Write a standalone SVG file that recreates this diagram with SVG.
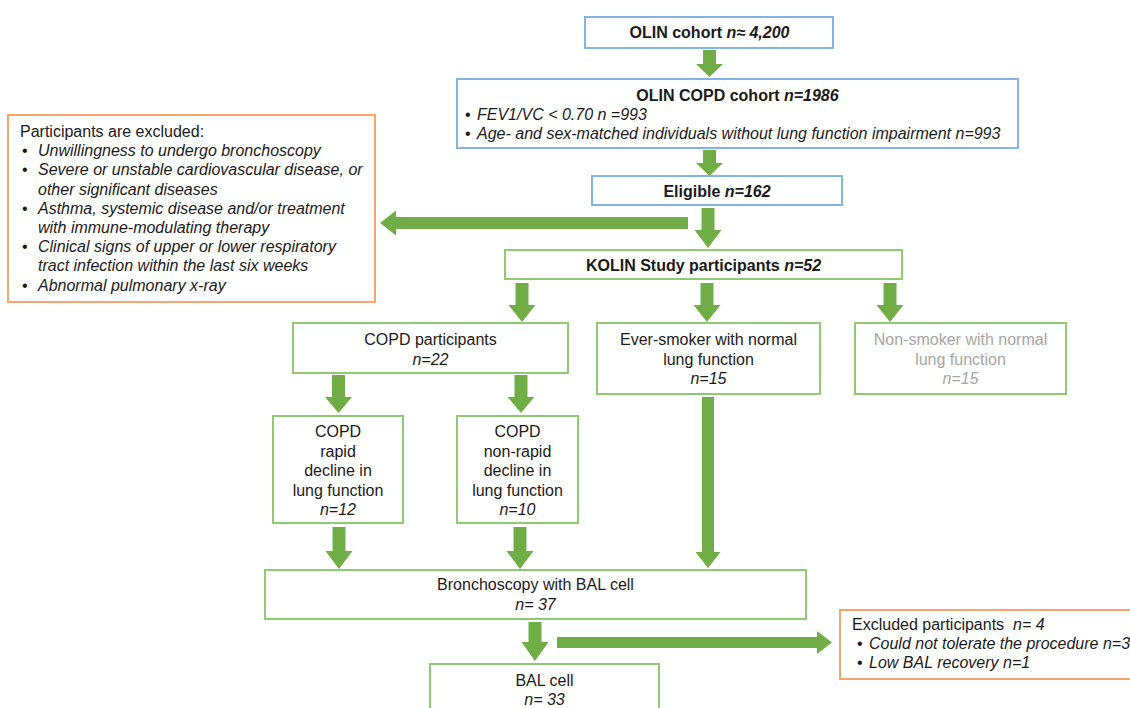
<svg xmlns="http://www.w3.org/2000/svg" width="1130" height="708" viewBox="0 0 1130 708">
  <style>
    text { font-family: "Liberation Sans", Arial, sans-serif; font-size: 16px; fill: #1a1a1a; }
    .b { font-weight: bold; }
    .i { font-style: italic; }
    .c { text-anchor: middle; }
    .grey { fill: #a6a6a6; }
    .blue { fill: #ffffff; stroke: #84b5e2; stroke-width: 2; }
    .green { fill: #ffffff; stroke: #90c873; stroke-width: 2; }
    .orange { fill: #ffffff; stroke: #f4a46c; stroke-width: 2; }
    .arrow { fill: #70ad47; }
  </style>

  <rect width="1130" height="708" fill="#ffffff"/>

  <!-- connectors -->
  <g id="connectors">
    <polygon class="arrow" points="703,50 716,50 716,64 723,64 709.5,77 696,64 703,64"/>
    <polygon class="arrow" points="703,150 716,150 716,163 723,163 709.5,176 696,163 703,163"/>
    <polygon class="arrow" points="701.5,208 714.5,208 714.5,230 721.5,230 708,248 694.5,230 701.5,230"/>
    <polygon class="arrow" points="688,217 396,217 396,210.5 380,223 396,235.5 396,229 688,229"/>
    <polygon class="arrow" points="515.5,283 528.5,283 528.5,305 535.5,305 522,322 508.5,305 515.5,305"/>
    <polygon class="arrow" points="700.5,283 713.5,283 713.5,305 720.5,305 707,322 693.5,305 700.5,305"/>
    <polygon class="arrow" points="883.5,283 896.5,283 896.5,305 903.5,305 890,322 876.5,305 883.5,305"/>
    <polygon class="arrow" points="332,375 345,375 345,397 352,397 338.5,413 325,397 332,397"/>
    <polygon class="arrow" points="514.5,375 527.5,375 527.5,397 534.5,397 521,413 507.5,397 514.5,397"/>
    <polygon class="arrow" points="332.5,527 345.5,527 345.5,551 352.5,551 339,569 325.5,551 332.5,551"/>
    <polygon class="arrow" points="513.5,527 526.5,527 526.5,551 533.5,551 520,569 506.5,551 513.5,551"/>
    <polygon class="arrow" points="702,397 714,397 714,552 720.5,552 708,568 695.5,552 702,552"/>
    <polygon class="arrow" points="528.5,622 541.5,622 541.5,642 548.5,642 535,661 521.5,642 528.5,642"/>
    <polygon class="arrow" points="557,637 817,637 817,631 832,642.5 817,654 817,648 557,648"/>
  </g>

  <g id="olin-cohort">
    <rect class="blue" x="585" y="17" width="248" height="31"/>
    <text class="c b" x="709.5" y="38">OLIN cohort <tspan class="i">n≈ 4,200</tspan></text>
  </g>

  <g id="olin-copd-cohort">
    <rect class="blue" x="457" y="79" width="561" height="69"/>
    <text class="c b" x="737.5" y="101">OLIN COPD cohort <tspan class="i">n=1986</tspan></text>
    <text x="465" y="120">•</text>
    <text class="i" x="477" y="120">FEV1/VC &lt; 0.70 n =993</text>
    <text x="465" y="139">•</text>
    <text class="i" x="477" y="139">Age- and sex-matched individuals without lung function impairment n=993</text>
  </g>

  <g id="eligible">
    <rect class="blue" x="592" y="176" width="250" height="29"/>
    <text class="c b" x="717" y="197">Eligible <tspan class="i">n=162</tspan></text>
  </g>

  <g id="exclusion-criteria">
    <rect class="orange" x="8" y="115" width="367" height="187"/>
    <text x="20" y="137">Participants are excluded:</text>
    <text x="22" y="156.2">•</text>
    <text class="i" x="38" y="156.2">Unwillingness to undergo bronchoscopy</text>
    <text x="22" y="175.4">•</text>
    <text class="i" x="38" y="175.4">Severe or unstable cardiovascular disease, or</text>
    <text class="i" x="38" y="194.6">other significant diseases</text>
    <text x="22" y="213.8">•</text>
    <text class="i" x="38" y="213.8">Asthma, systemic disease and/or treatment</text>
    <text class="i" x="38" y="233">with immune-modulating therapy</text>
    <text x="22" y="252.2">•</text>
    <text class="i" x="38" y="252.2">Clinical signs of upper or lower respiratory</text>
    <text class="i" x="38" y="271.4">tract infection within the last six weeks</text>
    <text x="22" y="290.6">•</text>
    <text class="i" x="38" y="290.6">Abnormal pulmonary x-ray</text>
  </g>

  <g id="kolin-participants">
    <rect class="green" x="505" y="250" width="397" height="29"/>
    <text class="c b" x="703.5" y="271">KOLIN Study participants <tspan class="i">n=52</tspan></text>
  </g>

  <g id="copd-participants">
    <rect class="green" x="293" y="323" width="275" height="50"/>
    <text class="c" x="430.5" y="345">COPD participants</text>
    <text class="c i" x="430.5" y="365">n=22</text>
  </g>

  <g id="ever-smoker">
    <rect class="green" x="597" y="323" width="223" height="71"/>
    <text class="c" x="708.5" y="345">Ever-smoker with normal</text>
    <text class="c" x="708.5" y="364.5">lung function</text>
    <text class="c i" x="708.5" y="384">n=15</text>
  </g>

  <g id="non-smoker">
    <rect class="green" x="855" y="323" width="211" height="71"/>
    <text class="c grey" x="960.5" y="345">Non-smoker with normal</text>
    <text class="c grey" x="960.5" y="364.5">lung function</text>
    <text class="c i grey" x="960.5" y="384">n=15</text>
  </g>

  <g id="copd-rapid">
    <rect class="green" x="273" y="416" width="130" height="107"/>
    <text class="c" x="338" y="437">COPD</text>
    <text class="c" x="338" y="456.5">rapid</text>
    <text class="c" x="338" y="476">decline in</text>
    <text class="c" x="338" y="495.5">lung function</text>
    <text class="c i" x="338" y="515">n=12</text>
  </g>

  <g id="copd-non-rapid">
    <rect class="green" x="457" y="416" width="121" height="107"/>
    <text class="c" x="517.5" y="437">COPD</text>
    <text class="c" x="517.5" y="456.5">non-rapid</text>
    <text class="c" x="517.5" y="476">decline in</text>
    <text class="c" x="517.5" y="495.5">lung function</text>
    <text class="c i" x="517.5" y="515">n=10</text>
  </g>

  <g id="bronchoscopy">
    <rect class="green" x="265" y="570" width="541" height="49"/>
    <text class="c" x="535.5" y="590">Bronchoscopy with BAL cell</text>
    <text class="c i" x="535.5" y="609.5">n= 37</text>
  </g>

  <g id="bal-cell">
    <rect class="green" x="430" y="664" width="229" height="60"/>
    <text class="c" x="544.5" y="686">BAL cell</text>
    <text class="c i" x="544.5" y="705">n= 33</text>
  </g>

  <g id="excluded-participants">
    <rect class="orange" x="840" y="610" width="300" height="69"/>
    <text x="852" y="630">Excluded participants&#160; <tspan class="i">n= 4</tspan></text>
    <text x="857" y="649">•</text>
    <text class="i" x="869" y="649">Could not tolerate the procedure n=3</text>
    <text x="857" y="668">•</text>
    <text class="i" x="869" y="668">Low BAL recovery n=1</text>
  </g>
</svg>
